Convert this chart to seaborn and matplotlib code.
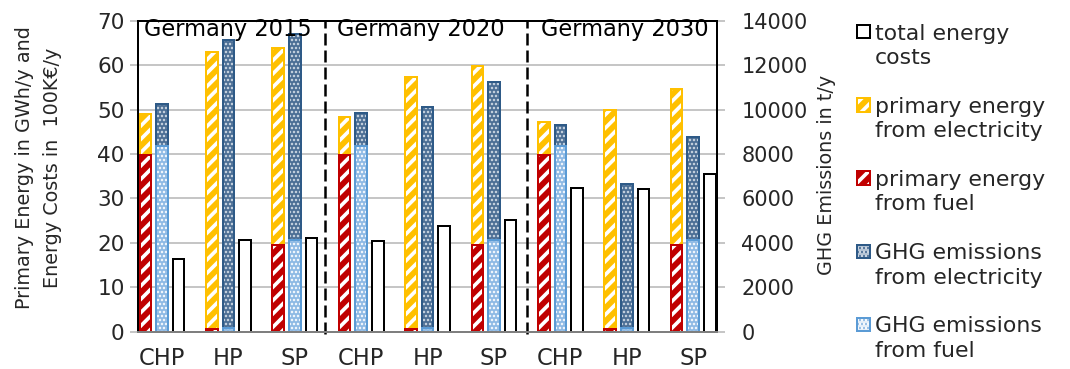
import matplotlib
matplotlib.use("Agg")
import matplotlib.pyplot as plt
import matplotlib.patches as mpatches
import pandas as pd
import seaborn as sns

# ---- data -------------------------------------------------------------
scenarios = ["Germany 2015", "Germany 2020", "Germany 2030"]
systems = ["CHP", "HP", "SP"]

# primary energy in GWh/y (CHP, HP, SP for each scenario)
pe_fuel = [39.8, 0.6, 19.6, 39.8, 0.6, 19.6, 39.8, 0.6, 19.6]
pe_elec = [9.1, 62.3, 44.3, 8.5, 56.7, 40.3, 7.4, 49.4, 35.1]
# GHG emissions in t/y
ghg_fuel = [8340, 160, 4140, 8340, 160, 4140, 8340, 160, 4140]
ghg_elec = [1920, 12980, 9240, 1500, 9960, 7100, 980, 6500, 4620]
# total energy costs in 100 k€/y
costs = [16.4, 20.7, 21.0, 20.5, 23.7, 25.1, 32.4, 32.1, 35.6]

legend_lines = [
    ("total energy", "costs"),
    ("primary energy", "from electricity"),
    ("primary energy", "from fuel"),
    ("GHG emissions", "from electricity"),
    ("GHG emissions", "from fuel"),
]

# ---- style ------------------------------------------------------------
sns.set_theme(style="white")
plt.rcParams["font.family"] = ["DejaVu Sans"]
plt.rcParams["hatch.linewidth"] = 2.2

RED = "#C00000"
YELLOW = "#FFC000"
DARK_FACE, DARK_DOT, DARK_EDGE = "#4A6D94", "#D5DEE8", "#2E5A87"
LIGHT_FACE, LIGHT_DOT, LIGHT_EDGE = "#8DB9E4", "#FFFFFF", "#5B9BD5"
GRID = "#B4B4B4"

DPI = 120
fig = plt.figure(figsize=(1070 / DPI, 369 / DPI), dpi=DPI)
ax = fig.add_axes([0.1287, 0.1011, 0.5411, 0.8428])

slots = [f"{sc} {sy}" for sc in scenarios for sy in systems]
tick_text = [sy for sc in scenarios for sy in systems]
kinds = ["pe", "ghg", "cost"]
GHG_PER_UNIT = 14000 / 70  # t/y per left-axis unit


def draw_layer(values, kind, face, stripe, edge, hatch, hatch_lw, edge_lw=1.2):
    frame = pd.DataFrame({"slot": slots, "value": values, "kind": kind})
    n_before = len(ax.containers)
    sns.barplot(data=frame, x="slot", y="value", hue="kind", order=slots,
                hue_order=kinds, palette={k: face for k in kinds}, dodge=True,
                width=0.75, gap=0.3, errorbar=None, legend=False, ax=ax)
    bars = [c for c in ax.containers[n_before:] if len(c) > 0][0]
    rims = []
    for bar in bars:
        bar.set_facecolor(face)
        bar.set_edgecolor(stripe)
        bar.set_linewidth(0)
        if hatch:
            bar.set_hatch(hatch)
            if hasattr(bar, "set_hatch_linewidth"):
                bar.set_hatch_linewidth(hatch_lw)
        rim = mpatches.Rectangle(bar.get_xy(), bar.get_width(), bar.get_height(),
                                 fill=False, edgecolor=edge, linewidth=edge_lw)
        ax.add_patch(rim)
        rims.append(rim)
    return bars[0], rims[0]


pe_total = [f + e for f, e in zip(pe_fuel, pe_elec)]
ghg_total = [(f + e) / GHG_PER_UNIT for f, e in zip(ghg_fuel, ghg_elec)]
ghg_fuel_units = [f / GHG_PER_UNIT for f in ghg_fuel]

h_pe_elec = draw_layer(pe_total, "pe", YELLOW, "white", YELLOW, "///", 2.2)
h_ghg_elec = draw_layer(ghg_total, "ghg", DARK_FACE, DARK_DOT, DARK_EDGE, ".....", 1.0)
h_cost = draw_layer(costs, "cost", "white", "white", "black", None, 0)
h_pe_fuel = draw_layer(pe_fuel, "pe", RED, "white", RED, "///", 2.2)
h_ghg_fuel = draw_layer(ghg_fuel_units, "ghg", LIGHT_FACE, LIGHT_DOT, LIGHT_EDGE, ".....", 1.0)

# ---- axes -------------------------------------------------------------
ax.set_xlim(-0.366, 8.354)
ax.set_ylim(0, 70)
ax.set_yticks(range(0, 71, 10))
ax.set_xticks(range(len(slots)))
ax.set_xticklabels(tick_text)
ax.set_xlabel("")
ax.set_ylabel("Primary Energy in GWh/y and\nEnergy Costs in  100K€/y",
              fontsize=11.5, linespacing=1.6)
ax.yaxis.set_label_coords(0.058, 0.545, transform=fig.transFigure)

ax.yaxis.grid(True, color=GRID, linewidth=0.9)
ax.xaxis.grid(False)
ax.set_axisbelow(True)
ax.tick_params(axis="y", length=4.8, width=0.9, color=GRID, pad=3,
               labelsize=13, direction="out", left=True)
ax.tick_params(axis="x", length=0, pad=9.0, labelsize=13.5)

for side in ("left", "top", "right"):
    ax.spines[side].set_color("black")
    ax.spines[side].set_linewidth(1.2)
ax.spines["bottom"].set_color("#7F7F7F")
ax.spines["bottom"].set_linewidth(1.2)

sec = ax.secondary_yaxis("right", functions=(lambda v: v * GHG_PER_UNIT,
                                             lambda v: v / GHG_PER_UNIT))
sec.set_yticks(range(0, 14001, 2000))
sec.tick_params(axis="y", length=4.8, width=0.9, color=GRID, pad=10,
                labelsize=12.5, direction="out")
sec.spines["right"].set_color("black")
sec.spines["right"].set_linewidth(1.2)
sec.set_ylabel("GHG Emissions in t/y", fontsize=11.5)
sec.yaxis.set_label_coords(0.7636, 0.527, transform=fig.transFigure)

# scenario separators and titles
for xpos in (2.45, 5.5):
    ax.axvline(xpos, ymin=-0.006, ymax=1, color="black", linewidth=1.5,
               dashes=(4.8, 2.0), clip_on=False)
for title, xpos in zip(scenarios, (0.99, 3.9, 6.97)):
    ax.text(xpos, 66.55, title, ha="center", va="baseline", fontsize=13.5,
            color="black")

# ---- legend -----------------------------------------------------------
# each entry: swatch beside its first line, second line below, then a spacer row
blank = mpatches.Patch(facecolor="none", edgecolor="none")
entry_handles = [h_cost, h_pe_elec, h_pe_fuel, h_ghg_elec, h_ghg_fuel]
handles, labels = [], []
for i, ((first, second), handle) in enumerate(zip(legend_lines, entry_handles)):
    handles += [handle, blank]
    labels += [first, second]
    if i < len(legend_lines) - 1:
        handles.append(blank)
        labels.append(" ")

fig.legend(handles, labels, loc="upper left",
           bbox_to_anchor=(857 / 1070, 1 - 23.5 / 369), frameon=False,
           fontsize=13.2, handlelength=0.6, handleheight=0.55,
           handletextpad=0.2, labelspacing=0.2, borderpad=0,
           borderaxespad=0)

fig.savefig("out.png", dpi=DPI)
